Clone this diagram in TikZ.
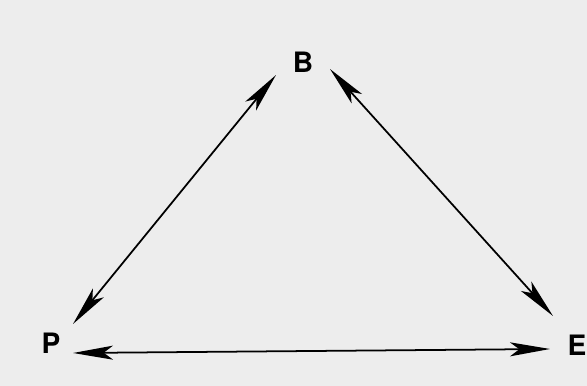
\documentclass[tikz,border=0pt]{standalone}
\usepackage{fontspec}
\setmainfont{TeX Gyre Heros}
\usetikzlibrary{arrows.meta}

\begin{document}
\begin{tikzpicture}[font=\fontsize{24}{28}\selectfont\bfseries,
  corner/.style={inner sep=0pt,text=black},
  link/.style={{Stealth[length=12mm,width=4.2mm,inset=2.8mm]}-{Stealth[length=12mm,width=4.2mm,inset=2.8mm]},line width=1.5pt,black}]
\fill[black!7] (0,0) rectangle (17.61,11.58);
\useasboundingbox (0,0) rectangle (17.61,11.58);
\node[corner] (B) at (9.09,9.72) {B};
\node[corner] (P) at (1.53,1.29) {P};
\node[corner] (E) at (17.31,1.23) {E};
\draw[link] ([shift={(-0.81,-0.39)}]B.center) -- ([shift={(0.66,0.57)}]P.center);
\draw[link] ([shift={(0.81,-0.21)}]B.center) -- ([shift={(-0.72,0.87)}]E.center);
\draw[link] ([shift={(0.66,-0.30)}]P.center) -- ([shift={(-0.81,-0.12)}]E.center);
\end{tikzpicture}
\end{document}
